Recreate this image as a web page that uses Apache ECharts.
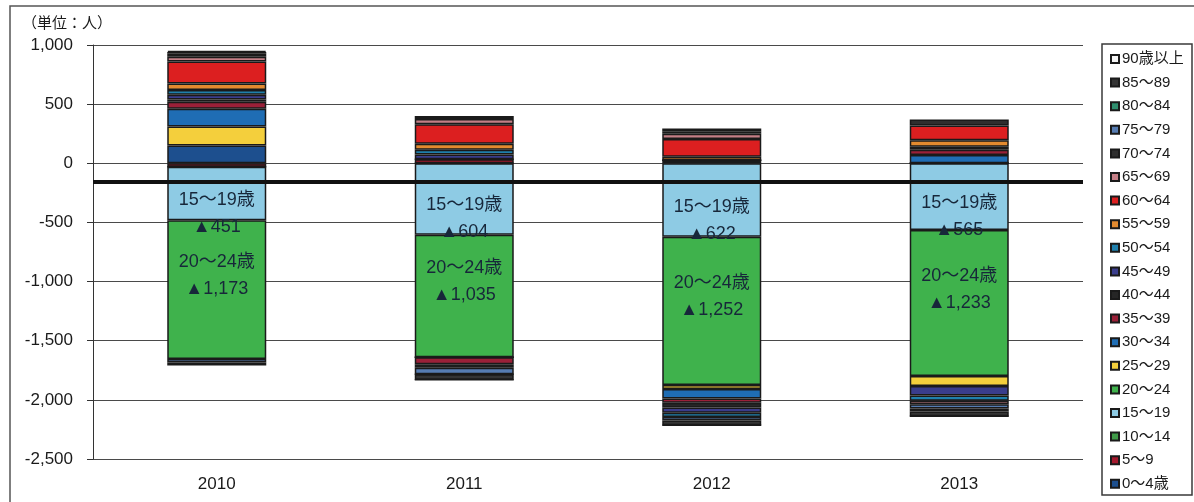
<!DOCTYPE html>
<html>
<head>
<meta charset="utf-8">
<script src="https://cdn.jsdelivr.net/npm/echarts@6/dist/echarts.min.js"></script>
<style>
  html, body { margin: 0; padding: 0; background: #ffffff; }
  #chart { width: 1194px; height: 502px; }
</style>
</head>
<body>
<div id="chart"></div>
<script>
// Years on the category axis
const years = ['2010', '2011', '2012', '2013'];

// Age groups, bottom of the stack first
const ageGroups = ['0～4歳', '5～9', '10～14', '15～19', '20～24', '25～29', '30～34', '35～39',
  '40～44', '45～49', '50～54', '55～59', '60～64', '65～69', '70～74', '75～79',
  '80～84', '85～89', '90歳以上'];

// Net change (persons) per age group, 2010-2013
const age0_4   = [150, 0, 25, 0];
const age5_9   = [-30, 35, 0, 0];
const age10_14 = [0, 0, 0, 0];
const age15_19 = [-451, -604, -622, -565];
const age20_24 = [-1173, -1035, -1252, -1233];
const age25_29 = [160, 0, -35, -85];
const age30_34 = [150, 0, -80, 70];
const age35_39 = [60, -60, -35, 45];
const age40_44 = [20, -30, -40, 25];
const age45_49 = [40, 40, -45, -80];
const age50_54 = [40, 40, -35, -45];
const age55_59 = [55, 50, 30, 55];
const age60_64 = [185, 165, 150, 125];
const age65_69 = [40, 45, 45, -30];
const age70_74 = [25, 25, 20, 50];
const age75_79 = [-30, -55, -30, -35];
const age80_84 = [15, 0, 25, -25];
const age85_89 = [-25, -45, -40, -40];
const age90up  = [10, 0, 0, 0];

const seriesValues = [age0_4, age5_9, age10_14, age15_19, age20_24, age25_29, age30_34,
  age35_39, age40_44, age45_49, age50_54, age55_59, age60_64, age65_69, age70_74,
  age75_79, age80_84, age85_89, age90up];

// Y axis ticks
const yMin = -2500, yMax = 1000, yStep = 500;
// Thick horizontal reference line
const baseline = -160;

// Fill colours, one per age group
const palette = ['#1d4f8e', '#a3182d', '#3f9a48', '#8ecbe4', '#3fb24c', '#f4cf3c', '#1f6db4',
  '#9a2038', '#262626', '#3a3d8c', '#1f80ad', '#e38a2f', '#dc1f20', '#c47e86', '#2e2e2e',
  '#567cb2', '#2f8e6e', '#343434', '#f4f4f4'];

const fontLatin = "'Liberation Sans', 'Noto Sans CJK JP', sans-serif";

const fmt = v => Math.abs(v).toLocaleString('en-US');

// Segments whose value is written inside the bar
const labelled = {
  '15～19': { offset: [0, 20] },
  '20～24': { offset: [0, -14] }
};

const barSeries = ageGroups.map((name, i) => {
  const s = {
    name: name,
    type: 'bar',
    stack: 'total',
    barWidth: 99,
    data: seriesValues[i],
    itemStyle: { color: palette[i], borderColor: '#1a1a1a', borderWidth: 1.5 },
    emphasis: { disabled: true },
    label: { show: false }
  };
  if (labelled[name]) {
    s.label = {
      show: true,
      position: 'inside',
      offset: labelled[name].offset,
      color: '#17273a',
      fontSize: 18,
      lineHeight: 27,
      fontFamily: fontLatin,
      formatter: p => name + '歳\n▲' + fmt(p.value)
    };
  }
  return s;
});

// Reference line drawn above the bars
const refSeries = {
  name: 'ref',
  type: 'line',
  data: years.map(() => null),
  z: 10,
  silent: true,
  markLine: {
    symbol: 'none',
    silent: true,
    label: { show: false },
    lineStyle: { color: '#111111', width: 4, type: 'solid' },
    emphasis: { disabled: true },
    data: [{ yAxis: baseline }]
  }
};

const chart = echarts.init(document.getElementById('chart'), null, { renderer: 'canvas' });
chart.setOption({
  animation: false,
  backgroundColor: '#ffffff',
  grid: { left: 93, right: 111, top: 45, bottom: 43 },
  legend: {
    orient: 'vertical',
    left: 1110,
    top: 51,
    padding: 0,
    itemWidth: 8,
    itemHeight: 8,
    itemGap: 7.6,
    icon: 'rect',
    data: ageGroups.slice().reverse(),
    textStyle: { color: '#1a1a1a', fontSize: 15, lineHeight: 16, fontFamily: fontLatin, padding: [0, 0, 0, -2] },
    selectedMode: false
  },
  xAxis: {
    type: 'category',
    data: years,
    axisLine: { show: false },
    axisTick: { show: false },
    axisLabel: { color: '#1a1a1a', fontSize: 17, fontFamily: fontLatin, margin: 17 }
  },
  yAxis: {
    type: 'value',
    min: yMin,
    max: yMax,
    interval: yStep,
    axisLine: { show: true, lineStyle: { color: '#333333', width: 1 } },
    axisTick: { show: true, length: 6, lineStyle: { color: '#333333' } },
    axisLabel: {
      color: '#1a1a1a',
      fontSize: 17,
      fontFamily: fontLatin,
      margin: 20,
      formatter: v => v.toLocaleString('en-US')
    },
    splitLine: { show: true, lineStyle: { color: '#4a4a4a', width: 1 } }
  },
  graphic: [
    {
      type: 'rect',
      shape: { x: 10, y: 6, width: 1200, height: 520 },
      style: { fill: 'none', stroke: '#555555', lineWidth: 1.5 },
      silent: true, z: -1
    },
    {
      type: 'rect',
      shape: { x: 1102, y: 44, width: 90, height: 451 },
      style: { fill: 'none', stroke: '#3a3a3a', lineWidth: 1.5 },
      silent: true
    },
    {
      type: 'text',
      left: 22,
      top: 15,
      style: { text: '（単位：人）', fill: '#1a1a1a', fontSize: 15, fontFamily: "'Noto Sans CJK JP', sans-serif" },
      silent: true
    }
  ],
  series: barSeries.concat([refSeries])
});
</script>
</body>
</html>
